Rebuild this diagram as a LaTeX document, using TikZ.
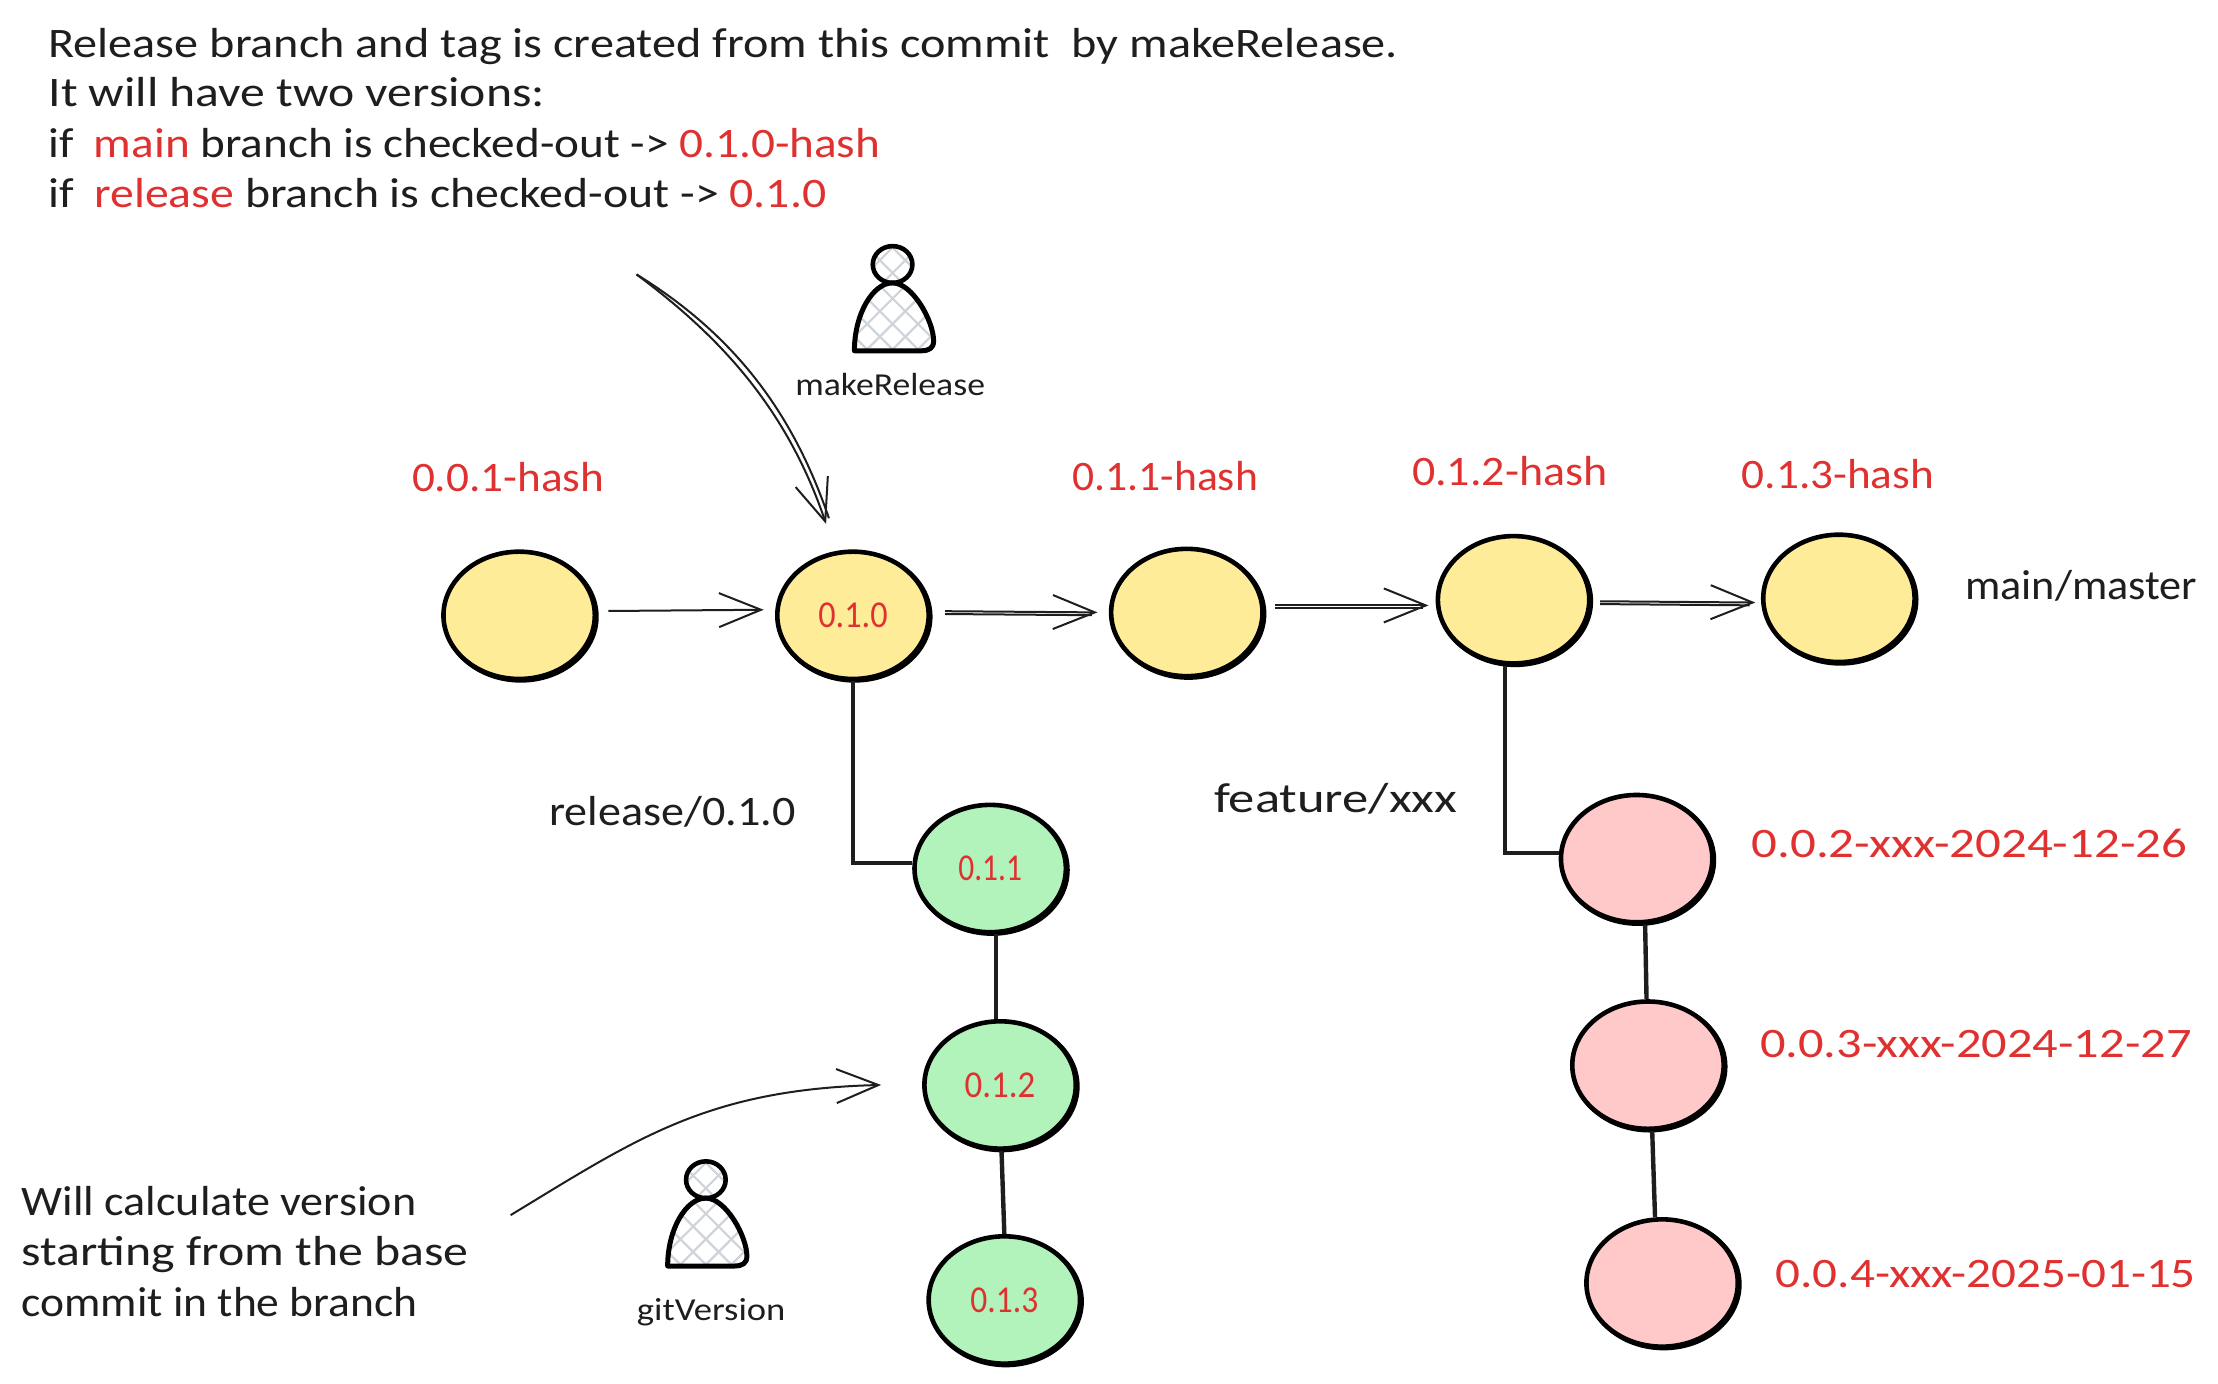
\documentclass[tikz,border=0pt]{standalone}
\usepackage{fontspec}
\setmainfont{Carlito}
\usetikzlibrary{arrows.meta,shapes.geometric,shadows}
\newlength\du \setlength\du{0.70727pt}
\newcommand{\fitw}[2]{\resizebox{#1\du}{\height}{#2}}
\definecolor{ink}{HTML}{1E1E1E}
\definecolor{hred}{HTML}{E03131}
\definecolor{hyellow}{HTML}{FFEC99}
\definecolor{hgreen}{HTML}{B2F2BB}
\definecolor{hpink}{HTML}{FFC9C9}
\definecolor{hatch}{HTML}{CED4DA}
\tikzset{
  x=1\du, y=-1\du,
  commit/.style={ellipse, draw=black, line width=2.3pt, inner sep=0pt, minimum width=107\du, minimum height=90\du, text=hred, font=\fontsize{19}{22}\selectfont},
  yc/.style={commit, fill=hyellow, copy shadow={shadow xshift=0.8pt, shadow yshift=-0.7pt, draw=black, fill=hyellow, line width=2.3pt}},
  gc/.style={commit, fill=hgreen, copy shadow={shadow xshift=0.8pt, shadow yshift=-0.7pt, draw=black, fill=hgreen, line width=2.3pt}},
  pc/.style={commit, fill=hpink, copy shadow={shadow xshift=0.8pt, shadow yshift=-0.7pt, draw=black, fill=hpink, line width=2.3pt}},
  hand/.style={anchor=base west, inner sep=0pt, text=ink, yshift=-1.5\du, font=\fontsize{21}{25}\selectfont},
  redhand/.style={hand, text=hred},
  small/.style={hand, font=\fontsize{16}{19}\selectfont},
  flow/.style={draw=ink, line width=1pt},
  flowtip/.style={flow, -{Straight Barb[length=21pt,width=17pt,line width=1pt]}},
  branch/.style={draw=ink, line width=2.2pt},
  person/.pic={
    \begin{scope}
      \path[clip] (-27,61) .. controls (-27,35) and (-14,13) .. (0,13) .. controls (14,13) and (29,40) .. (29,54) .. controls (29,59) and (26,61) .. (20,61) -- cycle
                  (14,0) arc[x radius=14, y radius=13, start angle=0, end angle=360];
      \foreach \k in {-6,...,6}{
        \draw[hatch, line width=1.1pt] (\k*18-80,-20) -- (\k*18+10,70);
        \draw[hatch, line width=1.1pt] (\k*18+80,-20) -- (\k*18-10,70);
      }
    \end{scope}
    \draw[black, line width=2.3pt] (14,0) arc[x radius=14, y radius=13, start angle=0, end angle=360];
    \draw[black, line width=2.5pt, line join=round] (-27,61) .. controls (-27,35) and (-14,13) .. (0,13) .. controls (14,13) and (29,40) .. (29,54) .. controls (29,59) and (26,61) .. (20,61) -- cycle;
  }
}
\begin{document}
\begin{tikzpicture}
\useasboundingbox (0,0) rectangle (1568,978.4);
% top note
\node[hand] (n1) at (34,39) {\fitw{954}{Release branch and tag is created from this commit\ \ by makeRelease.}};
\node[hand] (n2) at (34,74) {\fitw{351}{It will have two versions:}};
\node[hand] (n3) at (34,110) {\fitw{588}{if\hspace{0.2em} \textcolor{hred}{main} branch is checked-out -> \textcolor{hred}{0.1.0-hash}}};
\node[hand] (n4) at (34,145) {\fitw{550}{if\hspace{0.2em} \textcolor{hred}{release} branch is checked-out -> \textcolor{hred}{0.1.0}}};
% commits
\node[yc] (A) at (367,435) {};
\node[yc] (B) at (603,435) {\fitw{49}{0.1.0}};
\node[yc] (C) at (839,433) {};
\node[yc] (D) at (1070,424) {};
\node[yc] (E) at (1300,423) {};
\node[gc] (G1) at (700,614) {\fitw{45}{0.1.1}};
\node[gc] (G2) at (707,767) {\fitw{50}{0.1.2}};
\node[gc] (G3) at (710,919) {\fitw{48}{0.1.3}};
\node[pc] (P1) at (1157,607) {};
\node[pc] (P2) at (1165,753) {};
\node[pc] (P3) at (1175,907) {};
% labels
\node[redhand] (l1) at (291,346) {\fitw{136}{0.0.1-hash}};
\node[redhand] (l2) at (758,345) {\fitw{131}{0.1.1-hash}};
\node[redhand] (l3) at (998,342) {\fitw{138}{0.1.2-hash}};
\node[redhand] (l4) at (1231,344) {\fitw{136}{0.1.3-hash}};
\node[hand] (l5) at (1389,422) {\fitw{164}{main/master}};
\node[hand] (l6) at (388,582) {\fitw{174}{release/0.1.0}};
\node[hand] (l7) at (858,573) {\fitw{172}{feature/xxx}};
\node[redhand] (l8) at (1238,605) {\fitw{308}{0.0.2-xxx-2024-12-26}};
\node[redhand] (l9) at (1244,746) {\fitw{305}{0.0.3-xxx-2024-12-27}};
\node[redhand] (l10) at (1255,909) {\fitw{297}{0.0.4-xxx-2025-01-15}};
\node[small] (mr) at (562,278) {\fitw{134}{makeRelease}};
\node[small] (gv) at (450,932) {\fitw{105}{gitVersion}};
\node[hand] (w1) at (15,858) {\fitw{279}{Will calculate version}};
\node[hand] (w2) at (15,893) {\fitw{316}{starting from the base}};
\node[hand] (w3) at (15,929) {\fitw{280}{commit in the branch}};
% actors
\pic at (631,187) {person};
\pic at (499,834) {person};
% flow arrows
\draw[flowtip, shorten <=8\du, shorten >=8\du] ([yshift=3\du]A.east) -- ([yshift=4\du]B.west);
\draw[flowtip, shorten <=10\du, shorten >=8\du] ([yshift=3\du]B.east) -- (C.west);
\draw[flow, shorten <=10\du, shorten >=12\du] ([yshift=1\du]B.east) -- ([yshift=-2\du]C.west);
\draw[flowtip, shorten <=7\du, shorten >=5\du] ([yshift=5\du]C.east) -- ([yshift=-4\du]D.west);
\draw[flow, shorten <=7\du, shorten >=9\du] ([yshift=3\du]C.east) -- ([yshift=-6\du]D.west);
\draw[flowtip, shorten <=6\du, shorten >=4\du] ([yshift=-1\du]D.east) -- ([yshift=-3\du]E.west);
\draw[flow, shorten <=6\du, shorten >=8\du] ([yshift=-3\du]D.east) -- ([yshift=-5\du]E.west);
% branches
\draw[branch] (B.south) |- ([yshift=4\du]G1.west);
\draw[branch] ([xshift=-6\du]D.south) |- ([yshift=4\du]P1.west);
\draw[branch] ([xshift=4\du]G1.south) -- ([xshift=-3\du]G2.north);
\draw[branch] ([xshift=1\du]G2.south) -- (G3.north);
\draw[branch] ([xshift=6\du]P1.south) -- ([xshift=-1\du]P2.north);
\draw[branch] ([xshift=3\du]P2.south) -- ([xshift=-5\du]P3.north);
% annotations
\coordinate (relFrom) at (450,194);
\coordinate (gitFrom) at (361,859);
\draw[flowtip] (relFrom) .. controls (505,235) and (555,285) .. ([shift={(-19,-18)}]B.north);
\draw[flow] (relFrom) .. controls (518,236) and (560,290) .. ([shift={(-17,-22)}]B.north);
\draw[flowtip] (gitFrom) .. controls (450,805) and (500,770) .. ([xshift=-29\du]G2.west);
\end{tikzpicture}
\end{document}
